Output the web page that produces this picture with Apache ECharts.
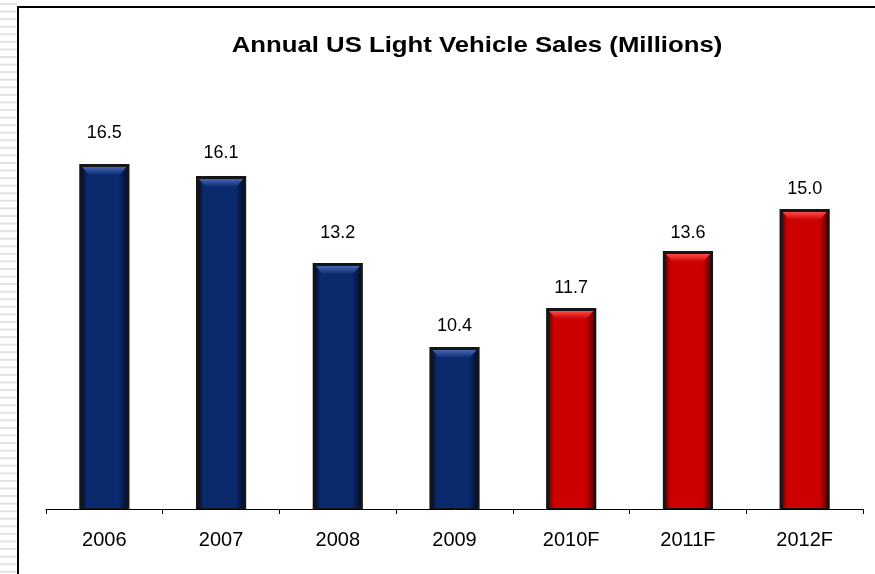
<!DOCTYPE html>
<html>
<head>
<meta charset="utf-8">
<title>Annual US Light Vehicle Sales</title>
<script src="https://cdn.jsdelivr.net/npm/echarts@6/dist/echarts.min.js"></script>
<style>
  html, body { margin: 0; padding: 0; background: #fff; }
  #chart { width: 875px; height: 574px; }
</style>
</head>
<body>
<div id="chart"></div>
<script>
// chart data
var years = ["2006", "2007", "2008", "2009", "2010F", "2011F", "2012F"];
var sales = [16.5, 16.1, 13.2, 10.4, 11.7, 13.6, 15.0];
var forecast = [false, false, false, false, true, true, true];
var titleText = "Annual US Light Vehicle Sales (Millions)";

// value label offset above each bar (px), the original places them unevenly
var labelGap = [31, 23, 30, 21, 20, 18, 20];

var yMin = 5;
var yMax = 17;

var navy = { body: "#0b2a6e", dark: "#050f33", light: "#4566b4" };
var red = { body: "#cc0000", dark: "#6e0000", light: "#ff4a4a" };
var font = "Liberation Sans, Arial, sans-serif";

var chart = echarts.init(document.getElementById("chart"));

// 3D bevelled bar, like the old excel style
function renderBar(params, api) {
  var i = api.value(0);
  var v = api.value(1);
  var top = api.coord([i, v]);
  var base = api.coord([i, yMin]);
  var w = api.size([1, 0])[0] * 0.43;
  var x = top[0] - w / 2;
  var y = top[1];
  var h = base[1] - top[1];
  var c = forecast[i] ? red : navy;
  return {
    type: "group",
    children: [
      {
        type: "rect",
        shape: { x: x, y: y, width: w, height: h },
        style: { fill: "#151515" }
      },
      {
        type: "rect",
        shape: { x: x + 3, y: y + 3, width: w - 6, height: h - 4 },
        style: {
          fill: new echarts.graphic.LinearGradient(0, 0, 1, 0, [
            { offset: 0, color: c.dark },
            { offset: 0.1, color: c.body },
            { offset: 0.82, color: c.body },
            { offset: 1, color: c.dark }
          ])
        }
      },
      {
        type: "polygon",
        shape: {
          points: [[x + 3, y + 3], [x + w - 3, y + 3], [x + w - 10, y + 11], [x + 10, y + 11]]
        },
        style: {
          fill: new echarts.graphic.LinearGradient(0, 0, 0, 1, [
            { offset: 0, color: c.light },
            { offset: 1, color: c.body }
          ])
        }
      },
      {
        type: "text",
        style: {
          text: v.toFixed(1),
          x: top[0],
          y: y - labelGap[i],
          align: "center",
          verticalAlign: "middle",
          fontFamily: font,
          fontSize: 18,
          fill: "#000"
        }
      }
    ]
  };
}

// stripes on the left edge of the slide
var stripes = [];
for (var k = 0; k < 76; k++) {
  stripes.push({
    type: "rect",
    shape: { x: 0, y: 3 + k * 7.57, width: 17, height: 2 },
    style: { fill: "#e2e2e2" },
    silent: true
  });
}

chart.setOption({
  backgroundColor: "#fff",
  animation: false,
  graphic: stripes.concat([
    {
      type: "rect",
      shape: { x: 18, y: 7, width: 900, height: 600 },
      style: { fill: "none", stroke: "#000", lineWidth: 2 },
      silent: true
    },
    {
      // title is a bit stretched in the original slide
      type: "text",
      x: 477,
      y: 46,
      scaleX: 1.17,
      style: {
        text: titleText,
        x: 0,
        y: 0,
        align: "center",
        verticalAlign: "middle",
        fontFamily: font,
        fontSize: 22,
        fontWeight: "bold",
        fill: "#000"
      },
      silent: true
    }
  ]),
  grid: { left: 46, right: 12, top: 149, bottom: 65 },
  xAxis: {
    type: "category",
    data: years,
    axisLine: { lineStyle: { color: "#000", width: 1 } },
    axisTick: { show: true, length: 5, lineStyle: { color: "#000" } },
    axisLabel: {
      margin: 21,
      color: "#000",
      fontFamily: font,
      fontSize: 20
    }
  },
  yAxis: {
    type: "value",
    min: yMin,
    max: yMax,
    show: false
  },
  series: [
    {
      type: "custom",
      renderItem: renderBar,
      encode: { x: 0, y: 1 },
      data: years.map(function (yr, i) { return [i, sales[i]]; })
    }
  ]
});
</script>
</body>
</html>
